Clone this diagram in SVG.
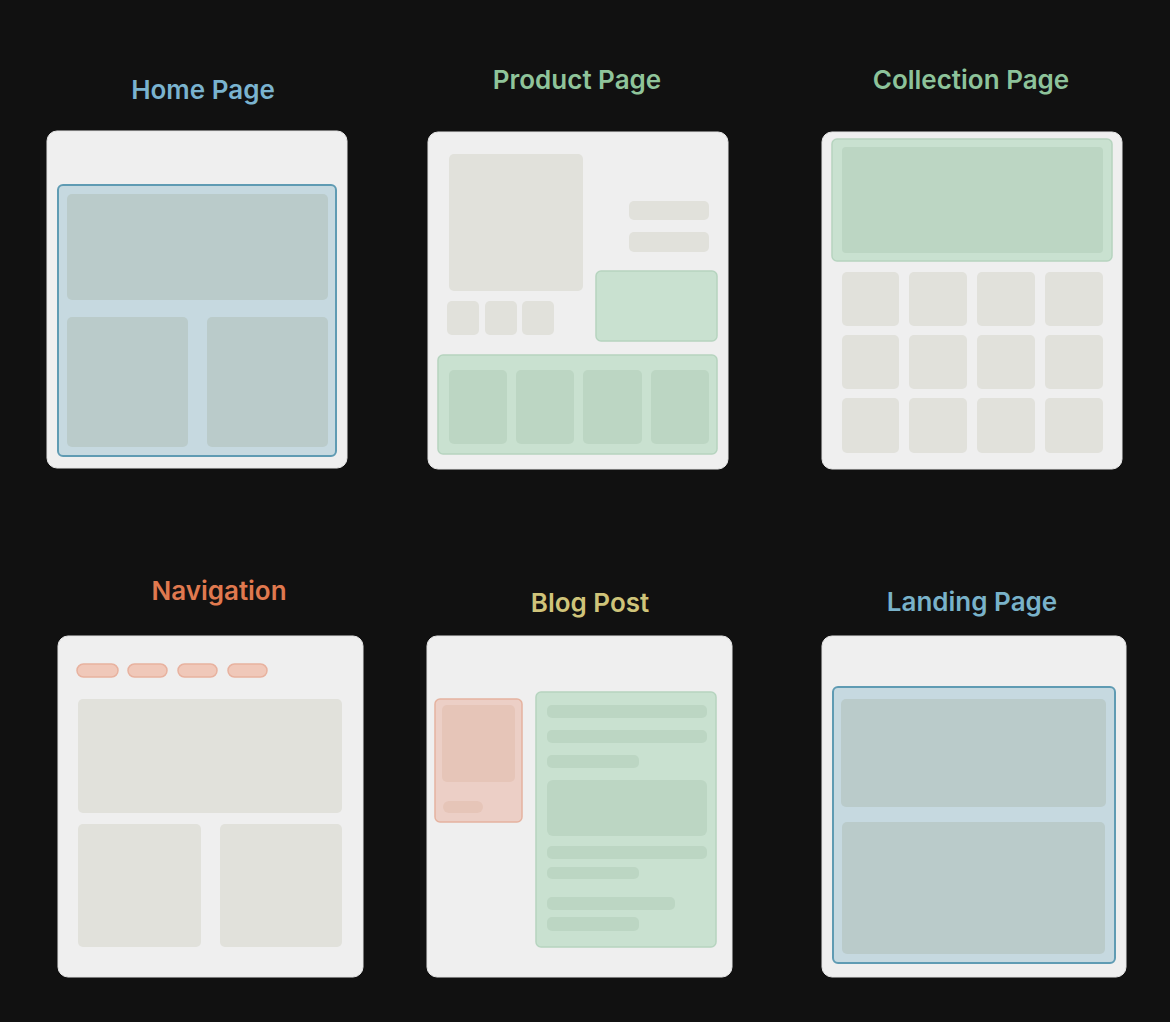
<svg xmlns="http://www.w3.org/2000/svg" width="1170" height="1022" viewBox="0 0 1170 1022">
<style>
.title{font-family:Inter,"Noto Sans",sans-serif;font-weight:600;font-size:26px;text-anchor:middle}
.card{fill:#efefef;stroke:#e4e4e4;stroke-width:1}
.grey{fill:#e1e1db}
.bluebox{fill:#c6d9e0;stroke:#5f9bb3;stroke-width:2}
.blueinner{fill:#bacbca}
.greenbox{fill:#c9e1d0;stroke:#b6d4bf;stroke-width:1.5}
.greeninner{fill:#bcd6c3}
.orangebox{fill:#eccfc6;stroke:#e5b3a0;stroke-width:1.5}
.orangeinner{fill:#e6c5b8}
.pill{fill:#f0c8b9;stroke:#e8b29f;stroke-width:1.5}
</style>
<rect width="1170" height="1022" fill="#111111"/>

<g id="home-page">
<text class="title" x="203" y="99" fill="#7ab3cf">Home Page</text>
<rect class="card" x="47" y="131" width="300" height="337" rx="10"/>
<rect class="bluebox" x="58" y="185" width="278" height="271" rx="5"/>
<rect class="blueinner" x="67" y="194" width="261" height="106" rx="5"/>
<rect class="blueinner" x="67" y="317" width="121" height="130" rx="5"/>
<rect class="blueinner" x="207" y="317" width="121" height="130" rx="5"/>
</g>

<g id="product-page">
<text class="title" x="577" y="89" fill="#8fc49a">Product Page</text>
<rect class="card" x="428" y="132" width="300" height="337" rx="10"/>
<rect class="grey" x="449" y="154" width="134" height="137" rx="5"/>
<rect class="grey" x="447" y="301" width="32" height="34" rx="5"/>
<rect class="grey" x="485" y="301" width="32" height="34" rx="5"/>
<rect class="grey" x="522" y="301" width="32" height="34" rx="5"/>
<rect class="grey" x="629" y="201" width="80" height="19" rx="5"/>
<rect class="grey" x="629" y="232" width="80" height="20" rx="5"/>
<rect class="greenbox" x="596" y="271" width="121" height="70" rx="5"/>
<rect class="greenbox" x="438" y="355" width="279" height="99" rx="5"/>
<rect class="greeninner" x="449" y="370" width="58" height="74" rx="5"/>
<rect class="greeninner" x="516" y="370" width="58" height="74" rx="5"/>
<rect class="greeninner" x="583" y="370" width="59" height="74" rx="5"/>
<rect class="greeninner" x="651" y="370" width="58" height="74" rx="5"/>
</g>

<g id="collection-page">
<text class="title" x="971" y="89" fill="#8dc39a">Collection Page</text>
<rect class="card" x="822" y="132" width="300" height="337" rx="10"/>
<rect class="greenbox" x="832" y="139" width="280" height="122" rx="5"/>
<rect class="greeninner" x="842" y="147" width="261" height="106" rx="4"/>
<rect class="grey" x="842" y="272" width="57" height="54" rx="5"/>
<rect class="grey" x="909" y="272" width="58" height="54" rx="5"/>
<rect class="grey" x="977" y="272" width="58" height="54" rx="5"/>
<rect class="grey" x="1045" y="272" width="58" height="54" rx="5"/>
<rect class="grey" x="842" y="335" width="57" height="54" rx="5"/>
<rect class="grey" x="909" y="335" width="58" height="54" rx="5"/>
<rect class="grey" x="977" y="335" width="58" height="54" rx="5"/>
<rect class="grey" x="1045" y="335" width="58" height="54" rx="5"/>
<rect class="grey" x="842" y="398" width="57" height="55" rx="5"/>
<rect class="grey" x="909" y="398" width="58" height="55" rx="5"/>
<rect class="grey" x="977" y="398" width="58" height="55" rx="5"/>
<rect class="grey" x="1045" y="398" width="58" height="55" rx="5"/>
</g>

<g id="navigation">
<text class="title" x="219" y="600" fill="#e0794f">Navigation</text>
<rect class="card" x="58" y="636" width="305" height="341" rx="10"/>
<rect class="pill" x="77" y="664" width="41" height="13" rx="6.5"/>
<rect class="pill" x="128" y="664" width="39" height="13" rx="6.5"/>
<rect class="pill" x="178" y="664" width="39" height="13" rx="6.5"/>
<rect class="pill" x="228" y="664" width="39" height="13" rx="6.5"/>
<rect class="grey" x="78" y="699" width="264" height="114" rx="5"/>
<rect class="grey" x="78" y="824" width="123" height="123" rx="5"/>
<rect class="grey" x="220" y="824" width="122" height="123" rx="5"/>
</g>

<g id="blog-post">
<text class="title" x="590" y="612" fill="#cfc47a">Blog Post</text>
<rect class="card" x="427" y="636" width="305" height="341" rx="10"/>
<rect class="orangebox" x="435" y="699" width="87" height="123" rx="5"/>
<rect class="orangeinner" x="442" y="705" width="73" height="77" rx="5"/>
<rect class="orangeinner" x="443" y="801" width="40" height="12" rx="6"/>
<rect class="greenbox" x="536" y="692" width="180" height="255" rx="5"/>
<rect class="greeninner" x="547" y="705" width="160" height="13" rx="5"/>
<rect class="greeninner" x="547" y="730" width="160" height="13" rx="5"/>
<rect class="greeninner" x="547" y="755" width="92" height="13" rx="5"/>
<rect class="greeninner" x="547" y="780" width="160" height="56" rx="6"/>
<rect class="greeninner" x="547" y="846" width="160" height="13" rx="5"/>
<rect class="greeninner" x="547" y="867" width="92" height="12" rx="5"/>
<rect class="greeninner" x="547" y="897" width="128" height="13" rx="5"/>
<rect class="greeninner" x="547" y="917" width="92" height="14" rx="5"/>
</g>

<g id="landing-page">
<text class="title" x="972" y="611" fill="#79b2c9">Landing Page</text>
<rect class="card" x="822" y="636" width="304" height="341" rx="10"/>
<rect class="bluebox" x="833" y="687" width="282" height="276" rx="5"/>
<rect class="blueinner" x="841" y="699" width="265" height="108" rx="5"/>
<rect class="blueinner" x="842" y="822" width="263" height="132" rx="5"/>
</g>

<g id="connectors"></g>
</svg>
